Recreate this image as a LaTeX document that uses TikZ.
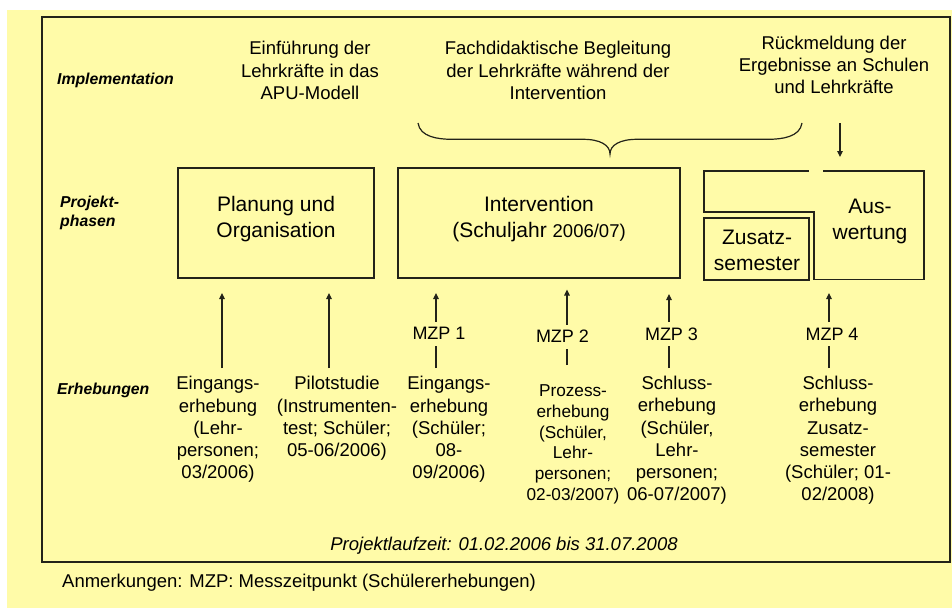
\documentclass[tikz,border=0pt]{standalone}
\usepackage{fontspec}
\setmainfont{Liberation Sans}
\usetikzlibrary{arrows.meta}
\definecolor{bgyellow}{RGB}{255,251,168}
\definecolor{linecol}{RGB}{35,35,25}
\begin{document}
\begin{tikzpicture}[x=1pt,y=-1pt,
  txt/.style={align=center,inner sep=0pt,font=\fontsize{18.5}{22.2}\selectfont},
  smalltxt/.style={align=center,inner sep=0pt,font=\fontsize{17.2}{20.7}\selectfont},
  boxtxt/.style={align=center,inner sep=0pt,font=\fontsize{21}{26}\selectfont},
  rowlabel/.style={align=left,inner sep=0pt,font=\fontsize{15.8}{19.4}\selectfont\bfseries\itshape},
  phasebox/.style={draw=linecol,line width=1.6pt,inner sep=0pt},
  mzp/.style={inner sep=0pt,minimum height=24pt,font=\fontsize{18}{22}\selectfont},
  conn/.style={draw=linecol,line width=1.2pt},
  arr/.style={conn,-{Triangle[length=6pt,width=5.5pt]}}
]
\useasboundingbox (0,0) rectangle (952,610);
\fill[bgyellow] (7,10) rectangle (952,608);
\draw[linecol,line width=1.7pt] (42,17) rectangle (950,562);

% row labels
\node[rowlabel,anchor=center] (limpl) at (115.5,80.7) {Implementation};
\node[rowlabel,anchor=west] (lphase) at (60,213) {Projekt-\\phasen};
\node[rowlabel,anchor=west] (lerh) at (57,390) {Erhebungen};

% implementation texts
\node[txt] (impl1) at (310,70.5) {Einführung der\\Lehrkräfte in das\\APU-Modell};
\node[txt] (impl2) at (558,70.5) {Fachdidaktische Begleitung\\der Lehrkräfte während der\\Intervention};
\node[txt] (impl3) at (834,65) {Rückmeldung der\\Ergebnisse an Schulen\\und Lehrkräfte};

% brace
\draw[conn] (418,123) .. controls (420,137) and (438,139.3) .. (452,139.3)
  -- (583,139.3) .. controls (600,139.3) and (610,145) .. (610,154)
  .. controls (610,145) and (620,139.3) .. (637,139.3)
  -- (768,139.3) .. controls (782,139.3) and (800,137) .. (802,123);

% down arrow
\coordinate (dtop) at (840,123);
\coordinate (dbot) at (840,157);
\draw[arr] (dtop) -- (dbot);

% phase boxes
\node[phasebox,minimum width=196pt,minimum height=110pt] (plan) at (276,223) {};
\node[boxtxt] (plantxt) at (276,219) {Planung und\\Organisation};
\node[phasebox,minimum width=282pt,minimum height=110pt] (interv) at (539,223) {};
\node[boxtxt] (intervtxt) at (539,219.5) {Intervention\\(Schuljahr {\fontsize{18.5}{22}\selectfont 2006/07)}};
\draw[linecol,line width=1.6pt] (823,171) -- (924,171) -- (924,279.5) -- (814,279.5)
  -- (814,212) -- (704,212) -- (704,171) -- (809,171);
\node[boxtxt] (auswtxt) at (870,221.5) {Aus-\\wertung};
\node[phasebox,minimum width=105pt,minimum height=62pt] (zus) at (756.5,249) {};
\node[boxtxt] (zustxt) at (757,250.5) {Zusatz-\\semester};

% survey texts
\node[txt] (c1) at (218,429.5) {Eingangs-\\erhebung\\(Lehr-\\personen;\\03/2006)};
\node[txt] (c2) at (337,418.5) {Pilotstudie\\(Instrumenten-\\test; Schüler;\\05-06/2006)};
\node[txt] (c3) at (449,429.5) {Eingangs-\\erhebung\\(Schüler;\\08-\\09/2006)};
\node[smalltxt] (c4) at (573,444.5) {Prozess-\\erhebung\\(Schüler,\\Lehr-\\personen;\\02-03/2007)};
\node[txt] (c5) at (677,440.5) {Schluss-\\erhebung\\(Schüler,\\Lehr-\\personen;\\06-07/2007)};
\node[txt] (c6) at (838,440.5) {Schluss-\\erhebung\\Zusatz-\\semester\\(Schüler; 01-\\02/2008)};

% arrow coordinates
\coordinate (t1) at (222,293);   \coordinate (b1) at (222,368);
\coordinate (t2) at (329,293);   \coordinate (b2) at (329,368);
\coordinate (t3) at (436,293);   \coordinate (b3) at (436,368);
\coordinate (t4) at (567,289.5); \coordinate (b4) at (567,365);
\coordinate (t5) at (669,294);   \coordinate (b5) at (669,368);
\coordinate (t6) at (829,293);   \coordinate (b6) at (829,368);

% MZP labels
\node[mzp] (m1) at (439,333.7) {MZP 1};
\node[mzp] (m2) at (562.5,336.7) {MZP 2};
\node[mzp] (m3) at (671.5,334.2) {MZP 3};
\node[mzp] (m4) at (832,334.2) {MZP 4};

\draw[arr] (b1) -- (t1);
\draw[arr] (b2) -- (t2);
\draw[conn] (b3) -- (b3 |- m1.south);
\draw[arr] (t3 |- m1.north) -- (t3);
\draw[conn] (b4) -- (b4 |- m2.south);
\draw[arr] (t4 |- m2.north) -- (t4);
\draw[conn] (b5) -- (b5 |- m3.south);
\draw[arr] (t5 |- m3.north) -- (t5);
\draw[conn] (b6) -- (b6 |- m4.south);
\draw[arr] (t6 |- m4.north) -- (t6);

% footer
\node[inner sep=0pt,font=\fontsize{18.5}{22}\selectfont\itshape] (laufzeit) at (504,546) {Projektlaufzeit: 01.02.2006 bis 31.07.2008};
\node[inner sep=0pt,anchor=west,font=\fontsize{18.5}{22}\selectfont] (anm) at (62,583) {Anmerkungen: MZP: Messzeitpunkt (Schülererhebungen)};
\end{tikzpicture}
\end{document}
